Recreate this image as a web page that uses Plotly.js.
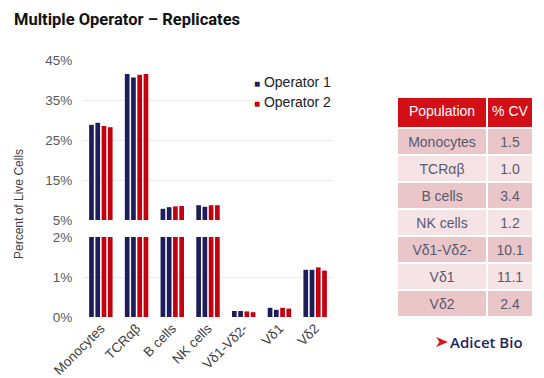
<!DOCTYPE html>
<html>
<head>
<meta charset="utf-8">
<script src="https://cdn.plot.ly/plotly-3.0.1.min.js"></script>
<style>html,body{margin:0;padding:0;background:#fff;}#chart{width:544px;height:378px;}</style>
</head>
<body>
<div id="chart"></div>
<script>
// ---- data ----
const categories = ['Monocytes', 'TCRαβ', 'B cells', 'NK cells', 'Vδ1-Vδ2-', 'Vδ1', 'Vδ2'];
const op1Rep1 = [28.8, 41.5, 7.8, 8.7, 0.15, 0.23, 1.18];
const op1Rep2 = [29.3, 40.6, 8.2, 8.3, 0.15, 0.18, 1.18];
const op2Rep1 = [28.5, 41.3, 8.4, 8.7, 0.14, 0.23, 1.24];
const op2Rep2 = [28.2, 41.5, 8.5, 8.7, 0.12, 0.21, 1.16];
const seriesNames = ['Operator 1', 'Operator 2'];
const cvHeader = ['Population', '%\u00a0CV'];
const cvPopulations = ['Monocytes', 'TCRαβ', 'B cells', 'NK cells', 'Vδ1-Vδ2-', 'Vδ1', 'Vδ2'];
const cvValues = [1.5, 1.0, 3.4, 1.2, 10.1, 11.1, 2.4];
const upperTicks = [5, 15, 25, 35, 45];
const lowerTicks = [0, 1, 2];

// ---- styling ----
const W = 544, H = 378;
const px = v => v / W;
const py = v => 1 - v / H;
const NAVY = '#1d1d5c';
const RED = '#c4000f';
const FONT = 'Liberation Sans';

const series = [
  {y: op1Rep1, color: NAVY},
  {y: op1Rep2, color: NAVY},
  {y: op2Rep1, color: RED},
  {y: op2Rep2, color: RED}
];

const traces = [];
// lower panel (0-2%)
series.forEach(s => traces.push({
  type: 'bar', x: categories, y: s.y, xaxis: 'x', yaxis: 'y',
  marker: {color: s.color}, showlegend: false, hoverinfo: 'skip'
}));
// upper panel (5-45%)
series.forEach(s => traces.push({
  type: 'bar', x: categories, y: s.y, xaxis: 'x2', yaxis: 'y2',
  marker: {color: s.color}, showlegend: false, hoverinfo: 'skip'
}));

// table of CVs
const rowFill = cvPopulations.map((_, i) => i % 2 === 0 ? '#ebc6c9' : '#f6e3e5');
traces.push({
  type: 'table',
  domain: {x: [px(397), px(533)], y: [py(324), py(97)]},
  columnwidth: [90, 46],
  header: {
    values: cvHeader,
    height: 31,
    fill: {color: '#d20f17'},
    font: {family: FONT, size: 14, color: '#ffffff'},
    align: 'center',
    line: {color: '#ffffff', width: 2}
  },
  cells: {
    values: [cvPopulations, cvValues],
    format: ['', '.1f'],
    height: 27,
    fill: {color: [rowFill, rowFill]},
    font: {family: FONT, size: 14, color: '#555a70'},
    align: 'center',
    line: {color: '#ffffff', width: 2}
  }
});

const xDomain = [px(83), px(333)];
const tickFont = {family: FONT, size: 13.5, color: '#595959'};

const layout = {
  width: W, height: H,
  margin: {l: 0, r: 0, t: 0, b: 0},
  paper_bgcolor: '#ffffff', plot_bgcolor: '#ffffff',
  font: {family: FONT},
  barmode: 'group', bargap: 0.3, bargroupgap: 0.25,
  showlegend: false,
  title: {
    text: 'Multiple Operator – Replicates',
    x: px(14), xanchor: 'left', xref: 'paper',
    y: py(19), yanchor: 'middle', yref: 'paper',
    font: {family: 'Roboto', size: 16.5, weight: 'bold', color: '#111111'}
  },
  xaxis: {
    domain: xDomain, anchor: 'y', type: 'category',
    tickangle: -45, tickfont: {family: FONT, size: 13.5, color: '#404040'},
    showgrid: false, showline: false, zeroline: false, ticks: ''
  },
  xaxis2: {
    domain: xDomain, anchor: 'y2', matches: 'x', type: 'category',
    showticklabels: false, showgrid: false, showline: false, zeroline: false, ticks: ''
  },
  yaxis: {
    domain: [py(317), py(237)], anchor: 'x', range: [0, 2],
    tickmode: 'array', tickvals: lowerTicks, ticktext: lowerTicks.map(v => v + '%'),
    tickfont: tickFont,
    ticks: 'outside', ticklen: 7, tickcolor: 'rgba(0,0,0,0)',
    showgrid: true, gridcolor: '#ebebeb', gridwidth: 1, zeroline: false, showline: false
  },
  yaxis2: {
    domain: [py(220), py(60)], anchor: 'x2', range: [5, 45],
    tickmode: 'array', tickvals: upperTicks, ticktext: upperTicks.map(v => v + '%'),
    tickfont: tickFont,
    ticks: 'outside', ticklen: 7, tickcolor: 'rgba(0,0,0,0)',
    showgrid: true, gridcolor: '#ebebeb', gridwidth: 1, zeroline: false, showline: false
  },
  annotations: [
    {
      text: 'Percent of Live Cells', textangle: -90,
      x: px(19), y: py(204), xref: 'paper', yref: 'paper',
      xanchor: 'center', yanchor: 'middle', showarrow: false,
      font: {family: FONT, size: 12, color: '#404040'}
    },
    {
      text: '<span style="color:' + NAVY + ';font-size:10px">■</span> ' + seriesNames[0],
      x: px(252), y: py(82), xref: 'paper', yref: 'paper',
      xanchor: 'left', yanchor: 'middle', showarrow: false,
      font: {family: FONT, size: 14, color: '#222222'}
    },
    {
      text: '<span style="color:' + RED + ';font-size:10px">■</span> ' + seriesNames[1],
      x: px(252), y: py(102), xref: 'paper', yref: 'paper',
      xanchor: 'left', yanchor: 'middle', showarrow: false,
      font: {family: FONT, size: 14, color: '#222222'}
    },
    {
      text: 'Adicet Bio',
      x: px(448), y: py(342), xref: 'paper', yref: 'paper',
      xanchor: 'left', yanchor: 'middle', showarrow: false,
      font: {family: 'Open Sans', size: 15, weight: 600, color: '#1f2a5e'}
    }
  ],
  shapes: [
    {
      type: 'path', xref: 'paper', yref: 'paper',
      path: 'M' + px(436) + ',' + py(337) + ' L' + px(448) + ',' + py(342) + ' L' + px(436) + ',' + py(347) + ' L' + px(439.5) + ',' + py(342) + ' Z',
      fillcolor: '#d7141e', line: {width: 0}
    }
  ]
};

Plotly.newPlot('chart', traces, layout, {displayModeBar: false, staticPlot: true});
</script>
</body>
</html>
